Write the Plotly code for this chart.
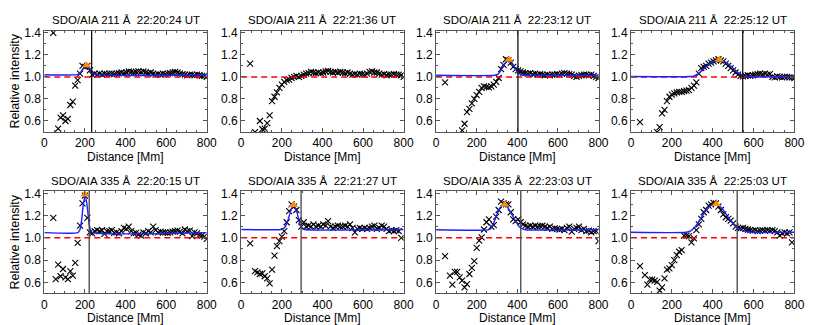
import plotly.graph_objects as go

# ---------------- data ----------------
DIST = [44, 56, 68, 80, 92, 104, 116, 128,
        140, 152, 164, 176, 188, 200, 212, 224,
        236, 248, 260, 272, 284, 296, 308, 320,
        332, 344, 356, 368, 380, 392, 404, 416,
        428, 440, 452, 464, 476, 488, 500, 512,
        524, 536, 548, 560, 572, 584, 596, 608,
        620, 632, 644, 656, 668, 680, 692, 704,
        716, 728, 740, 752, 764, 776, 788, 800]

TITLES = ["SDO/AIA 211 Å  22:20:24 UT", "SDO/AIA 211 Å  22:21:36 UT",
          "SDO/AIA 211 Å  22:23:12 UT", "SDO/AIA 211 Å  22:25:12 UT",
          "SDO/AIA 335 Å  22:20:15 UT", "SDO/AIA 335 Å  22:21:27 UT",
          "SDO/AIA 335 Å  22:23:03 UT", "SDO/AIA 335 Å  22:25:03 UT"]

y211_a = [1.40, None, 0.53, 0.63, 0.65, 0.60, 0.62, 0.745,
          0.775, 0.92, 0.97, 1.03, 1.10, 1.09, 1.10, 1.06,
          1.02, 1.03, 1.02, 1.03, 1.02, 1.03, 1.025, 1.03,
          1.03, 1.025, 1.03, 1.035, 1.04, 1.035, 1.04, 1.05,
          1.045, 1.04, 1.045, 1.05, 1.045, 1.05, 1.04, 1.035,
          1.04, 1.03, 1.02, 1.025, 1.02, 1.03, 1.025, 1.03,
          1.035, 1.04, 1.045, 1.04, 1.03, 1.025, 1.02, 1.015,
          1.02, 1.02, 1.015, 1.02, 1.015, 1.01, 1.01, 1.00]
y211_b = [1.12, None, 0.50, None, 0.60, 0.525, 0.53, 0.58,
          0.65, 0.78, 0.82, 0.86, 0.90, 0.93, 0.955, 0.97,
          0.975, 0.99, 1.00, 1.01, 1.00, 1.01, 1.02, 1.03,
          1.035, 1.045, 1.04, 1.035, 1.04, 1.035, 1.04, 1.05,
          1.055, 1.045, 1.04, 1.045, 1.04, 1.045, 1.04, 1.035,
          1.04, 1.03, 1.02, 1.025, 1.02, 1.03, 1.025, 1.02,
          1.03, 1.045, 1.05, 1.04, 1.04, 1.03, 1.02, 1.025,
          1.015, 1.02, 1.02, 1.025, 1.02, 1.02, 1.015, 1.00]
y211_c = [0.95, None, None, None, None, None, None, 0.515,
          0.575, 0.68, 0.71, 0.76, 0.80, 0.835, 0.865, 0.90,
          0.915, 0.91, 0.905, 0.915, 0.93, 0.955, 0.99, 1.07,
          1.11, 1.16, 1.15, 1.13, 1.09, 1.07, 1.06, 1.05,
          1.04, 1.035, 1.03, 1.035, 1.025, 1.03, 1.02, 1.025,
          1.02, 1.015, 1.02, 1.015, 1.02, 1.02, 1.025, 1.02,
          1.03, 1.035, 1.03, 1.025, 1.02, 1.01, 1.00, 1.01,
          1.015, 1.02, 1.02, 1.015, 1.02, 1.01, 1.00, 0.99]
y211_d = [0.59, None, None, None, None, None, None, 0.50,
          0.545, 0.67, 0.70, 0.78, 0.82, 0.84, 0.85, 0.86,
          0.865, 0.865, 0.87, 0.875, 0.88, 0.90, 0.92, 0.95,
          1.03, 1.08, 1.09, 1.10, 1.12, 1.13, 1.14, 1.15,
          1.16, 1.15, 1.14, 1.12, 1.10, 1.08, 1.06, 1.04,
          1.02, 1.01, 1.005, 1.01, 1.015, 1.01, 1.015, 1.02,
          1.025, 1.03, 1.025, 1.03, 1.02, 1.025, 1.00, 0.995,
          1.005, 1.00, 0.995, 1.00, 1.00, 0.995, 0.995, 0.99]
y335_a = [1.18, 0.63, 0.76, 0.655, 0.72, 0.645, 0.63, 0.70,
          0.66, 0.775, 0.955, 1.11, 1.31, 1.38, 1.18, 1.05,
          1.04, 1.06, 1.07, 1.06, 1.07, 1.035, 1.06, 1.06,
          1.07, 1.045, 1.05, 1.04, 1.06, 1.09, 1.08, 1.10,
          1.06, 1.04, 1.045, 1.03, 1.02, 1.05, 1.04, 1.06,
          1.05, 1.10, 1.07, 1.05, 1.055, 1.05, 1.05, 1.045,
          1.05, 1.055, 1.06, 1.065, 1.055, 1.04, 1.075, 1.06,
          1.065, 1.015, 1.05, 1.04, 1.025, 1.02, 1.01, 0.99]
y335_b = [0.95, None, 0.70, 0.69, 0.675, 0.68, 0.655, 0.635,
          0.59, 0.715, 0.84, 0.925, 0.97, 1.01, 1.06, 1.14,
          1.24, 1.30, 1.28, 1.25, 1.16, 1.10, 1.14, 1.10,
          1.11, 1.10, 1.12, 1.10, 1.11, 1.10, 1.12, 1.11,
          1.15, 1.10, 1.09, 1.10, 1.11, 1.10, 1.10, 1.11,
          1.10, 1.12, 1.09, 1.05, 1.08, 1.09, 1.08, 1.09,
          1.08, 1.09, 1.10, 1.11, 1.08, 1.09, 1.11, 1.10,
          1.08, 1.06, 1.07, 1.06, 1.07, 1.06, 1.00, None]
y335_c = [0.835, None, 0.66, 0.58, 0.695, 0.695, 0.645, 0.615,
          0.555, 0.585, 0.675, 0.73, 0.79, 0.91, 0.975, 1.005,
          1.075, 1.14, 1.165, 1.10, 1.115, 1.19, 1.25, 1.325,
          1.31, 1.30, 1.30, 1.23, 1.165, 1.15, 1.165, 1.14,
          1.12, 1.11, 1.10, 1.11, 1.10, 1.11, 1.10, 1.105,
          1.11, 1.10, 1.09, 1.10, 1.08, 1.085, 1.08, 1.075,
          1.08, 1.07, 1.09, 1.10, 1.055, 1.08, 1.09, 1.10,
          1.07, 1.08, 1.06, 1.065, 1.05, 1.06, 1.06, 0.97]
y335_d = [0.745, None, 0.665, 0.58, 0.625, 0.625, 0.615, 0.605,
          0.525, 0.555, 0.635, 0.715, 0.725, 0.755, 0.80, 0.845,
          0.875, 0.89, 1.02, 1.02, 1.015, 0.96, 0.995, 1.07,
          1.12, 1.17, 1.23, 1.25, 1.29, 1.30, 1.315, 1.31,
          1.28, 1.25, 1.21, 1.185, 1.17, 1.155, 1.13, 1.10,
          1.09, 1.085, 1.09, 1.08, 1.075, 1.07, 1.065, 1.07,
          1.06, 1.065, 1.07, 1.065, 1.07, 1.065, 1.07, 1.06,
          1.05, 1.02, 1.04, 1.05, 1.04, 1.05, 0.96, None]

# fitted profiles
fit211_a_x = [0, 160, 175, 190, 200, 208, 216, 226, 240, 255, 800]
fit211_a_y = [1.02, 1.02, 1.035, 1.07, 1.09, 1.10, 1.09, 1.07, 1.035, 1.02, 1.02]
fit211_c_x = [0, 290, 305, 320, 335, 350, 358, 366, 380, 395, 410, 425, 440, 800]
fit211_c_y = [1.015, 1.015, 1.025, 1.06, 1.11, 1.145, 1.15, 1.145, 1.11, 1.06, 1.03, 1.017, 1.015, 1.015]
fit211_d_x = [0, 290, 310, 330, 350, 370, 390, 410, 430, 450, 470, 490, 510, 530, 550, 570, 800]
fit211_d_y = [1.003, 1.003, 1.01, 1.03, 1.06, 1.095, 1.125, 1.145, 1.15, 1.145, 1.125, 1.095, 1.06, 1.03, 1.01, 1.003, 1.003]
fit335_a_x = [0, 165, 175, 183, 192, 201, 210, 219, 227, 237, 800]
fit335_a_y = [1.047, 1.047, 1.07, 1.15, 1.30, 1.38, 1.30, 1.15, 1.07, 1.047, 1.047]
fit335_b_x = [0, 195, 210, 225, 240, 250, 258, 266, 276, 288, 300, 312, 800]
fit335_b_y = [1.075, 1.075, 1.085, 1.13, 1.22, 1.27, 1.285, 1.27, 1.22, 1.13, 1.085, 1.075, 1.075]
fit335_c_x = [0, 255, 270, 283, 300, 318, 335, 350, 370, 390, 410, 425, 440, 800]
fit335_c_y = [1.072, 1.072, 1.085, 1.13, 1.21, 1.28, 1.30, 1.28, 1.22, 1.155, 1.10, 1.08, 1.073, 1.072]
fit335_d_x = [0, 270, 290, 310, 330, 350, 370, 390, 410, 430, 450, 470, 490, 510, 530, 550, 570, 590, 800]
fit335_d_y = [1.05, 1.05, 1.06, 1.09, 1.14, 1.20, 1.255, 1.29, 1.30, 1.29, 1.255, 1.20, 1.15, 1.11, 1.08, 1.065, 1.055, 1.05, 1.05]

PEAK_X = [207, None, 358, 432, 200, 258, 338, 417]
PEAK_Y = [1.105, None, 1.155, 1.155, 1.39, 1.295, 1.30, 1.305]
FRONT_X = [233, None, 403, 547, 221, 295, 417, 520]
REF_LEVEL = 1.0
X_RANGE = [0, 800]
Y_RANGE = [0.5, 1.42]

SERIES = [y211_a, y211_b, y211_c, y211_d, y335_a, y335_b, y335_c, y335_d]
FITS = [(fit211_a_x, fit211_a_y), None, (fit211_c_x, fit211_c_y), (fit211_d_x, fit211_d_y),
        (fit335_a_x, fit335_a_y), (fit335_b_x, fit335_b_y), (fit335_c_x, fit335_c_y),
        (fit335_d_x, fit335_d_y)]

# ---------------- layout geometry (pixels) ----------------
W, H = 830, 325
COL_PX = [(42, 207), (242, 407), (440, 605), (638, 804)]
ROW_PX = [(26, 129), (189, 293)]
FONT = "Liberation Sans, Arial, Helvetica, sans-serif"
AXC = "#555555"

fig = go.Figure()
annotations = []
shapes = []

for k in range(8):
    r, c = divmod(k, 4)
    n = k + 1
    xa = "x" if n == 1 else f"x{n}"
    ya = "y" if n == 1 else f"y{n}"
    x0, x1 = COL_PX[c]
    t0, t1 = ROW_PX[r]

    fig.add_trace(go.Scatter(x=DIST, y=SERIES[k], mode="markers", xaxis=xa, yaxis=ya,
                             marker=dict(symbol="x-thin", size=6, color="black",
                                         line=dict(width=1.1, color="black")),
                             showlegend=False, hoverinfo="skip"))
    fig.add_trace(go.Scatter(x=X_RANGE, y=[REF_LEVEL, REF_LEVEL], mode="lines",
                             xaxis=xa, yaxis=ya,
                             line=dict(color="#ff0000", width=1.5, dash="6px,4px"),
                             showlegend=False, hoverinfo="skip"))
    if FITS[k] is not None:
        fx, fy = FITS[k]
        fig.add_trace(go.Scatter(x=fx, y=fy, mode="lines", xaxis=xa, yaxis=ya,
                                 line=dict(color="#1f1fff", width=1.4, shape="spline",
                                           smoothing=0.6),
                                 showlegend=False, hoverinfo="skip"))
    if PEAK_X[k] is not None:
        fig.add_trace(go.Scatter(x=[PEAK_X[k]], y=[PEAK_Y[k]], mode="markers",
                                 xaxis=xa, yaxis=ya,
                                 marker=dict(symbol="triangle-up", size=8, color="#ff8c00"),
                                 showlegend=False, hoverinfo="skip"))
    if FRONT_X[k] is not None:
        shapes.append(dict(type="line", xref=xa, yref=f"{ya} domain",
                           x0=FRONT_X[k], x1=FRONT_X[k], y0=0, y1=1,
                           line=dict(color="#111111" if r == 0 else "#444444", width=1.3),
                           layer="above"))

    axis_common = dict(showline=True, linecolor=AXC, linewidth=1, mirror="ticks",
                       ticks="inside", ticklen=4, tickcolor=AXC, tickwidth=1,
                       showgrid=False, zeroline=False,
                       tickfont=dict(family=FONT, size=12, color="black"))
    fig.update_layout(**{
        ("xaxis" if n == 1 else f"xaxis{n}"): dict(
            axis_common, domain=[x0 / W, x1 / W], anchor=ya, range=X_RANGE,
            tickmode="linear", tick0=0, dtick=200,
            minor=dict(dtick=50, ticks="inside", ticklen=2, tickcolor=AXC)),
        ("yaxis" if n == 1 else f"yaxis{n}"): dict(
            axis_common, domain=[1 - t1 / H, 1 - t0 / H], anchor=xa, range=Y_RANGE,
            tickmode="linear", tick0=0.6, dtick=0.2, tickformat=".1f",
            minor=dict(tick0=0.5, dtick=0.1, ticks="inside", ticklen=2, tickcolor=AXC)),
    })

    cx = (x0 + x1) / 2 / W
    annotations.append(dict(text=TITLES[k], x=cx, y=1 - (t0 - 10.5) / H, xref="paper",
                            yref="paper", showarrow=False, xanchor="center",
                            yanchor="middle", font=dict(family=FONT, size=11.5, color="black")))
    annotations.append(dict(text="Distance [Mm]", x=cx, y=1 - (t1 + 25) / H,
                            xref="paper", yref="paper", showarrow=False, xanchor="center",
                            yanchor="middle", font=dict(family=FONT, size=12, color="black")))
    if c == 0:
        annotations.append(dict(text="Relative intensity", x=12.5 / W,
                                y=1 - (t0 + t1) / 2 / H, xref="paper", yref="paper",
                                showarrow=False, textangle=-90, xanchor="center",
                                yanchor="middle",
                                font=dict(family=FONT, size=12.5, color="black")))

fig.update_layout(width=W, height=H, margin=dict(l=0, r=0, t=0, b=0),
                  paper_bgcolor="white", plot_bgcolor="white",
                  annotations=annotations, shapes=shapes, showlegend=False)

fig.write_html("out.html", config={"displayModeBar": False},
               post_script="document.body.style.margin='0';document.body.style.padding='0';")
